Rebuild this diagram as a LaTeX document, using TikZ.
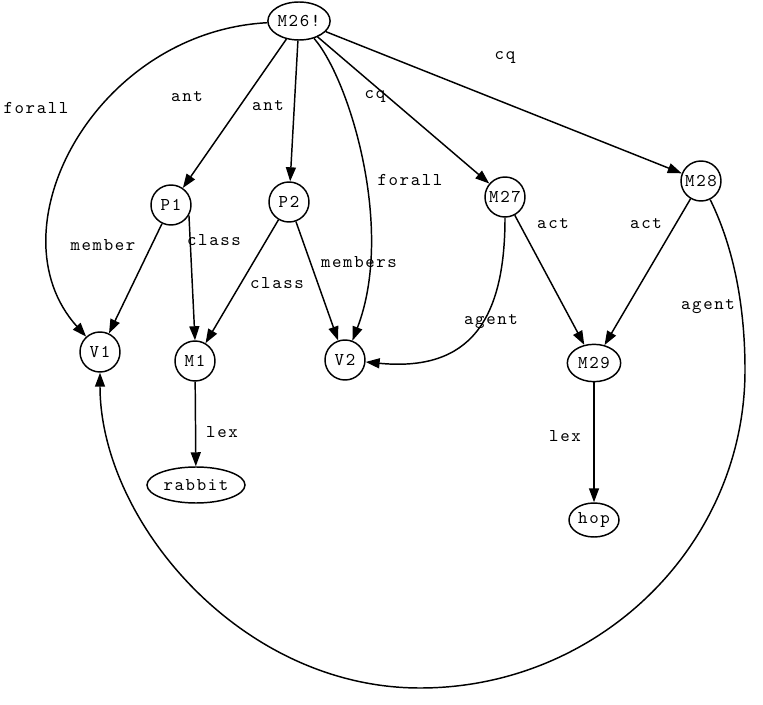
\documentclass[tikz,border=0pt]{standalone}
\usepackage{fontspec}
\newfontfamily\cour[Extension=.otf,LetterSpace=9]{lmmono10-regular}
\usetikzlibrary{arrows.meta,shapes.geometric}

\tikzset{every picture/.style={line width=1.1pt}}
\tikzset{
  vtx/.style={draw,circle,minimum size=30pt,inner sep=0.5pt},
  ovl/.style={draw,ellipse,inner sep=0.5pt},
  lbl/.style={inner sep=0.75pt},
  arc/.style={-{Triangle[length=10.5pt,width=7.5pt]}},
}

\begin{document}
\begin{tikzpicture}[x=0.75pt,y=0.75pt,yscale=-1,xscale=1,font=\cour\fontsize{13.5}{15}\selectfont]
    \useasboundingbox (0,0) rectangle (763,705);
    % nodes
    \node (m26) [ovl,minimum width=45pt,minimum height=28.5pt] at (299,21) {M26!};
    \node (p1) [vtx] at (171,205) {P1};
    \node (p2) [vtx] at (289,202) {P2};
    \node (m27) [vtx] at (505,197) {M27};
    \node (m28) [vtx] at (701,181) {M28};
    \node (v1) [vtx] at (100,352) {V1};
    \node (m1) [vtx] at (195,361) {M1};
    \node (v2) [vtx] at (345,360) {V2};
    \node (m29) [ovl,minimum width=40pt,minimum height=28pt] at (594,363) {M29};
    \node (rabbit) [ovl,minimum width=73.5pt,minimum height=27pt] at (196,485) {rabbit};
    \node (hop) [ovl,minimum width=37.5pt,minimum height=25.5pt] at (594,520) {hop};

    % edges
    \draw [arc] (m26) .. controls (95,32) and (-10,230) .. (v1);
    \draw [arc] (m26) -- (p1);
    \draw [arc] (m26) -- (p2);
    \draw [arc] (m26) .. controls (350,80) and (395,230) .. (v2);
    \draw [arc] (m26) -- (m27);
    \draw [arc] (m26) -- (m28);
    \draw [arc] (p1) -- (v1);
    \draw [arc] (p1.-30) -- (m1.north);
    \draw [arc] (p2) -- (m1);
    \draw [arc] (p2) -- (v2);
    \draw [arc] (m27) .. controls (505,320) and (470,372) .. (v2);
    \draw [arc] (m27) -- (m29);
    \draw [arc] (m28) -- (m29);
    \draw [arc] (m28) .. controls (735,250) and (745,310) .. (745,370) .. controls (745,545) and (599,688) .. (420,688) .. controls (240,688) and (100,520) .. (v1);
    \draw [arc] (m1) -- (rabbit);
    \draw [arc] (m29) -- (hop);

    % labels
    \node (t1) [lbl] at (36,108) {forall};
    \node (t2) [lbl] at (187,97) {ant};
    \node (t3) [lbl] at (268,106) {ant};
    \node (t4) [lbl] at (375,97) {cq};
    \node (t5) [lbl] at (505,58) {cq};
    \node (t6) [lbl] at (410,180) {forall};
    \node (t7) [lbl] at (103,245) {member};
    \node (t8) [lbl] at (214,240) {class};
    \node (t9) [lbl] at (277,283) {class};
    \node (t10) [lbl] at (359,262) {members};
    \node (t11) [lbl] at (491,322) {agent};
    \node (t12) [lbl] at (553,224) {act};
    \node (t13) [lbl] at (646,224) {act};
    \node (t14) [lbl] at (708,307) {agent};
    \node (t15) [lbl] at (222,432) {lex};
    \node (t16) [lbl] at (565,436) {lex};
\end{tikzpicture}
\end{document}
